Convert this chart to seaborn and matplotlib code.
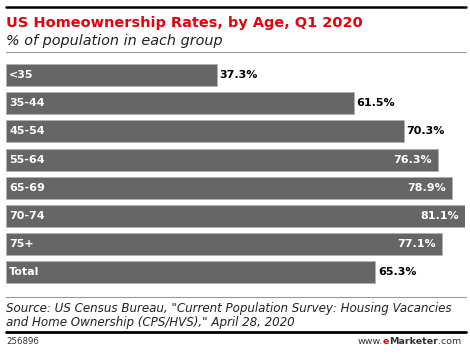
import matplotlib
matplotlib.use("Agg")
import matplotlib.pyplot as plt
import seaborn as sns
import pandas as pd
from matplotlib.lines import Line2D

categories = ["<35", "35-44", "45-54", "55-64", "65-69", "70-74", "75+", "Total"]
values = [37.3, 61.5, 70.3, 76.3, 78.9, 81.1, 77.1, 65.3]
value_labels = ["37.3%", "61.5%", "70.3%", "76.3%", "78.9%", "81.1%", "77.1%", "65.3%"]
inside = [False, False, False, True, True, True, True, False]

df = pd.DataFrame({"cat": categories, "val": values})

sns.set_theme(style="white")
plt.rcParams['font.family'] = ['DejaVu Sans']

W, H = 470, 354
fig = plt.figure(figsize=(W / 100, H / 100), dpi=100)

def fx(px):
    return px / W

def fy(py):
    return 1 - py / H

ax_top, ax_bot = 60.9, 286.5
ax = fig.add_axes([fx(6), fy(ax_bot), fx(464.8) - fx(6), (ax_bot - ax_top) / H])
sns.barplot(data=df, x="val", y="cat", orient="h", color="#666666", saturation=1,
            width=0.78, edgecolor="#b0b0b0", linewidth=0.6, ax=ax)
ax.set_xlim(0, 81.1)
ax.set_ylim(7.5, -0.5)
ax.axis("off")

for i, (c, v, lab, ins) in enumerate(zip(categories, values, value_labels, inside)):
    ax.annotate(c, (0, i), xytext=(2.3, 0), textcoords="offset points", va="center", ha="left",
                color="white", fontsize=8, fontweight="bold")
    if ins:
        ax.annotate(lab, (v, i), xytext=(-4.3, 0), textcoords="offset points", va="center",
                    ha="right", color="white", fontsize=8, fontweight="bold")
    else:
        ax.annotate(lab, (v, i), xytext=(2, 0), textcoords="offset points", va="center",
                    ha="left", color="black", fontsize=8, fontweight="bold")

fig.canvas.draw()
renderer = fig.canvas.get_renderer()

def fit_text(x0, ybase, s, target_w, size, **kw):
    t = fig.text(fx(x0), fy(ybase), s, fontsize=size, va="baseline", ha="left", **kw)
    w = t.get_window_extent(renderer).width
    t.set_fontsize(size * target_w / w)
    return t

# Top
fig.add_artist(Line2D([fx(6), fx(466)], [fy(7), fy(7)], color="black", lw=1.8))
fit_text(6, 26.5, "US Homeownership Rates, by Age, Q1 2020", 358, 10.5,
         color="#e8000b", fontweight="bold")
fit_text(6, 44.5, "% of population in each group", 217, 10.5,
         color="#222222", style="italic")
fig.add_artist(Line2D([fx(6), fx(466)], [fy(51.7), fy(51.7)], color="#999999", lw=0.8))

# Bottom
fig.add_artist(Line2D([fx(6), fx(466)], [fy(297.3), fy(297.3)], color="#999999", lw=0.8))
src = fit_text(6, 311.7, "Source: US Census Bureau, \"Current Population Survey: Housing Vacancies",
               450, 8.9, color="#222222", style="italic")
fig.text(fx(6), fy(325.7), "and Home Ownership (CPS/HVS),\" April 28, 2020",
         color="#222222", fontsize=src.get_fontsize(), style="italic", va="baseline", ha="left")
fig.add_artist(Line2D([fx(6), fx(466)], [fy(331.5), fy(331.5)], color="black", lw=2.0))
fig.text(fx(6), fy(344.5), "256896", color="#333333", fontsize=6.2, va="baseline", ha="left")

# eMarketer logo text, right aligned at x=461
parts = [("www.", "#333333", "normal"), ("e", "#e8000b", "bold"),
         ("Marketer", "#333333", "bold"), (".com", "#333333", "normal")]
texts = []
widths = []
for s, col, wt in parts:
    t = fig.text(0, fy(344.5), s, color=col, fontsize=6.8, fontweight=wt, va="baseline", ha="left")
    texts.append(t)
    widths.append(t.get_window_extent(renderer).width)
x = 461 - sum(widths)
for t, w in zip(texts, widths):
    t.set_x(fx(x))
    x += w

fig.savefig("out.png", dpi=100)
